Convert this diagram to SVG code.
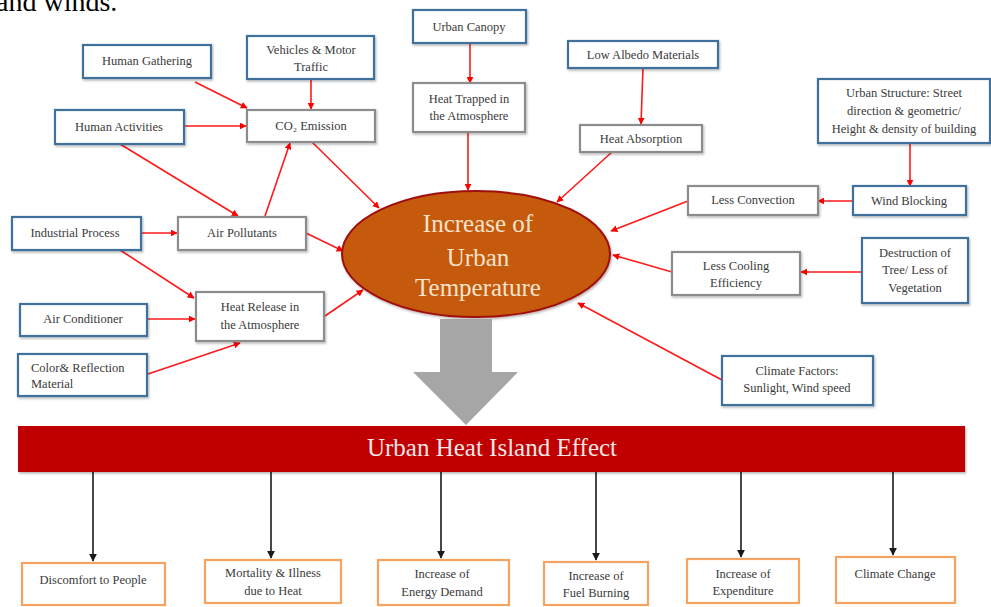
<svg xmlns="http://www.w3.org/2000/svg" width="991" height="607" viewBox="0 0 991 607">
<defs>
<marker id="ar" viewBox="0 0 10 10" refX="9" refY="5" markerWidth="7" markerHeight="7" markerUnits="userSpaceOnUse" orient="auto">
<path d="M0,0 L10,5 L0,10 z" fill="#ff0000"/>
</marker>
<marker id="ab" viewBox="0 0 10 10" refX="9" refY="5" markerWidth="8" markerHeight="8" markerUnits="userSpaceOnUse" orient="auto">
<path d="M0,0 L10,5 L0,10 z" fill="#1a1a1a"/>
</marker>
<filter id="sh" x="-10%" y="-10%" width="130%" height="140%">
<feDropShadow dx="1" dy="1.5" stdDeviation="1" flood-color="#000" flood-opacity="0.3"/>
</filter>
</defs>
<style>
.t{font-family:"Liberation Serif","Times New Roman",serif;font-size:12.5px;fill:#3a3a3a;text-anchor:middle}
.blue{fill:#fff;stroke:#41719c;stroke-width:2.2}
.gray{fill:#fff;stroke:#8c8c8c;stroke-width:2.2}
.org{fill:#fff;stroke:#f4a460;stroke-width:2.2}
.r{stroke:#ff1a1a;stroke-width:1.6;fill:none;marker-end:url(#ar)}
.k{stroke:#1a1a1a;stroke-width:1.6;fill:none;marker-end:url(#ab)}
</style>
<rect width="991" height="607" fill="#fff"/>
<text x="-4" y="11" font-family="Liberation Serif, serif" font-size="28" fill="#000">and winds.</text>

<g id="connectors">
<line class="r" x1="195" y1="82" x2="247" y2="108"/>
<line class="r" x1="311" y1="79" x2="311" y2="109"/>
<line class="r" x1="184" y1="126" x2="246" y2="126"/>
<line class="r" x1="120" y1="144" x2="238" y2="216"/>
<line class="r" x1="265" y1="216" x2="290" y2="143"/>
<line class="r" x1="312" y1="142" x2="379" y2="208"/>
<line class="r" x1="306" y1="233" x2="343" y2="251"/>
<line class="r" x1="141" y1="233" x2="177" y2="233"/>
<line class="r" x1="120" y1="250" x2="194" y2="298"/>
<line class="r" x1="147" y1="319" x2="195" y2="319"/>
<line class="r" x1="148" y1="374" x2="240" y2="343"/>
<line class="r" x1="325" y1="316" x2="363" y2="290"/>
<line class="r" x1="470" y1="43" x2="470" y2="83"/>
<line class="r" x1="468" y1="132" x2="468" y2="190"/>
<line class="r" x1="643" y1="68" x2="641" y2="124"/>
<line class="r" x1="612" y1="152" x2="557" y2="202"/>
<line class="r" x1="910" y1="143" x2="910" y2="186"/>
<line class="r" x1="853" y1="201" x2="818" y2="201"/>
<line class="r" x1="688" y1="201" x2="611" y2="231"/>
<line class="r" x1="861" y1="272" x2="801" y2="272"/>
<line class="r" x1="672" y1="272" x2="613" y2="255"/>
<line class="r" x1="722" y1="380" x2="578" y2="303"/>
<line class="k" x1="93" y1="472" x2="93" y2="561"/>
<line class="k" x1="271" y1="472" x2="271" y2="558"/>
<line class="k" x1="441" y1="472" x2="441" y2="558"/>
<line class="k" x1="596" y1="472" x2="596" y2="560"/>
<line class="k" x1="741" y1="472" x2="741" y2="557"/>
<line class="k" x1="893" y1="472" x2="893" y2="555"/>
</g>

<g id="human-gathering"><rect class="blue" x="83" y="45" width="128" height="33" filter="url(#sh)"/><text class="t" x="147" y="65">Human Gathering</text></g>
<g id="vehicles"><rect class="blue" x="247" y="36" width="127" height="43" filter="url(#sh)"/><text class="t" x="311" y="54">Vehicles &amp; Motor</text><text class="t" x="311" y="71">Traffic</text></g>
<g id="co2"><rect class="gray" x="247" y="110" width="128" height="32" filter="url(#sh)"/><text class="t" x="311" y="130">CO₂ Emission</text></g>
<g id="human-activities"><rect class="blue" x="55" y="110" width="129" height="34" filter="url(#sh)"/><text class="t" x="119" y="131">Human Activities</text></g>
<g id="urban-canopy"><rect class="blue" x="413" y="10" width="113" height="33" filter="url(#sh)"/><text class="t" x="469" y="31">Urban Canopy</text></g>
<g id="heat-trapped"><rect class="gray" x="413" y="83" width="112" height="49" filter="url(#sh)"/><text class="t" x="469" y="103">Heat Trapped  in</text><text class="t" x="469" y="120">the Atmosphere</text></g>
<g id="low-albedo"><rect class="blue" x="568" y="41" width="150" height="27" filter="url(#sh)"/><text class="t" x="643" y="59">Low Albedo Materials</text></g>
<g id="heat-absorption"><rect class="gray" x="580" y="125" width="122" height="27" filter="url(#sh)"/><text class="t" x="641" y="143">Heat Absorption</text></g>
<g id="urban-structure"><rect class="blue" x="818" y="79" width="172" height="64" filter="url(#sh)"/><text class="t" x="904" y="97">Urban Structure: Street</text><text class="t" x="904" y="115">direction &amp; geometric/</text><text class="t" x="904" y="133">Height &amp; density of building</text></g>
<g id="wind-blocking"><rect class="blue" x="853" y="186" width="113" height="29" filter="url(#sh)"/><text class="t" x="909" y="205">Wind Blocking</text></g>
<g id="less-convection"><rect class="gray" x="688" y="186" width="130" height="29" filter="url(#sh)"/><text class="t" x="753" y="204">Less Convection</text></g>
<g id="destruction"><rect class="blue" x="862" y="238" width="106" height="65" filter="url(#sh)"/><text class="t" x="915" y="257">Destruction of</text><text class="t" x="915" y="274">Tree/ Less of</text><text class="t" x="915" y="292">Vegetation</text></g>
<g id="less-cooling"><rect class="gray" x="672" y="252" width="128" height="43" filter="url(#sh)"/><text class="t" x="736" y="270">Less Cooling</text><text class="t" x="736" y="287">Efficiency</text></g>
<g id="climate-factors"><rect class="blue" x="722" y="356" width="151" height="49" filter="url(#sh)"/><text class="t" x="797" y="375">Climate Factors:</text><text class="t" x="797" y="392">Sunlight, Wind speed</text></g>
<g id="industrial"><rect class="blue" x="12" y="217" width="129" height="33" filter="url(#sh)"/><text class="t" x="75" y="237">Industrial Process</text></g>
<g id="air-pollutants"><rect class="gray" x="178" y="217" width="128" height="33" filter="url(#sh)"/><text class="t" x="242" y="237">Air Pollutants</text></g>
<g id="air-conditioner"><rect class="blue" x="20" y="304" width="127" height="32" filter="url(#sh)"/><text class="t" x="83" y="323">Air Conditioner</text></g>
<g id="heat-release"><rect class="gray" x="196" y="292" width="128" height="49" filter="url(#sh)"/><text class="t" x="260" y="311">Heat Release in</text><text class="t" x="260" y="329">the Atmosphere</text></g>
<g id="color-reflection"><rect class="blue" x="18" y="354" width="129" height="42" filter="url(#sh)"/><text class="t" x="31" y="372" style="text-anchor:start">Color&amp; Reflection</text><text class="t" x="31" y="388" style="text-anchor:start">Material</text></g>

<g id="increase-temp">
<ellipse cx="476" cy="254" rx="134" ry="63" fill="#c55a11" stroke="#a01010" stroke-width="2" filter="url(#sh)"/>
<g font-family="Liberation Serif, serif" font-size="25" fill="#f7e3cc" text-anchor="middle">
<text x="478" y="232">Increase  of</text>
<text x="478" y="266">Urban</text>
<text x="478" y="296">Temperature</text>
</g>
</g>

<g id="big-arrow"><path d="M440,319 L492,319 L492,372 L518,372 L466,425 L413,372 L440,372 Z" fill="#a6a6a6"/></g>

<g id="uhi">
<rect x="18" y="426" width="947" height="46" fill="#c00000" filter="url(#sh)"/>
<text x="492" y="456" font-family="Liberation Serif, serif" font-size="25" fill="#f5e6e6" text-anchor="middle">Urban Heat Island Effect</text>
</g>

<g id="discomfort"><rect class="org" x="22" y="563" width="143" height="42"/><text class="t" x="93" y="584" font-size="12">Discomfort to People</text></g>
<g id="mortality"><rect class="org" x="205" y="560" width="136" height="43"/><text class="t" x="273" y="577">Mortality &amp; Illness</text><text class="t" x="273" y="595">due to Heat</text></g>
<g id="energy"><rect class="org" x="378" y="560" width="131" height="45"/><text class="t" x="442" y="578">Increase of</text><text class="t" x="442" y="596">Energy Demand</text></g>
<g id="fuel"><rect class="org" x="544" y="562" width="104" height="43"/><text class="t" x="596" y="580">Increase of</text><text class="t" x="596" y="597">Fuel Burning</text></g>
<g id="expenditure"><rect class="org" x="687" y="559" width="112" height="44"/><text class="t" x="743" y="578">Increase of</text><text class="t" x="743" y="595">Expenditure</text></g>
<g id="climate-change"><rect class="org" x="836" y="557" width="119" height="46"/><text class="t" x="895" y="578">Climate Change</text></g>
</svg>
